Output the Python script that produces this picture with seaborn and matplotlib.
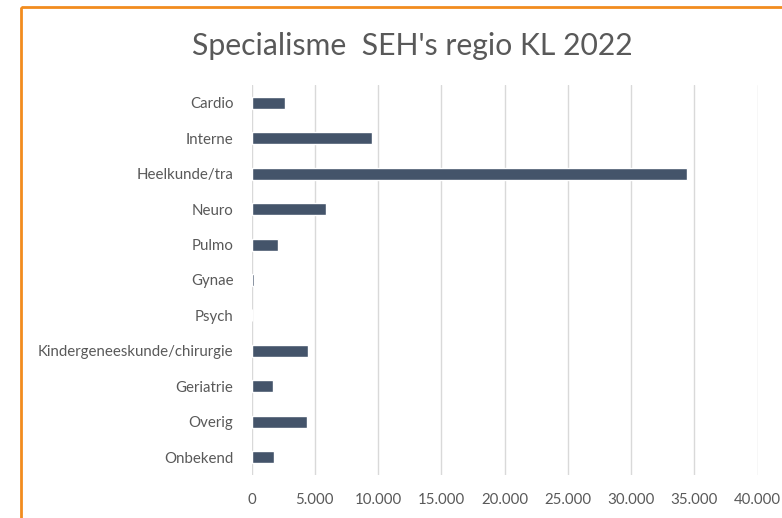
import matplotlib
matplotlib.use("Agg")
import matplotlib.pyplot as plt
import matplotlib.patches as mpatches
from matplotlib.ticker import FuncFormatter
import seaborn as sns
import pandas as pd

# Number of ED visits per specialism, regio KL 2022
specialismen = [
    "Cardio", "Interne", "Heelkunde/tra", "Neuro", "Pulmo", "Gynae",
    "Psych", "Kindergeneeskunde/chirurgie", "Geriatrie", "Overig", "Onbekend",
]
aantallen = [2650, 9500, 34400, 5900, 2100, 200, 0, 4450, 1680, 4380, 1760]
x_ticks = [0, 5000, 10000, 15000, 20000, 25000, 30000, 35000, 40000]

sns.set_theme(style="white")
plt.rcParams["font.family"] = ["Lato", "DejaVu Sans"]

W, H = 782, 518
fig = plt.figure(figsize=(W / 100, H / 100), dpi=100)
fig.patch.set_facecolor("white")

# plot area in pixel units -> figure fractions
left_px, right_px, top_px, bottom_px = 251.5, 757.5, 85, 475
ax = fig.add_axes([left_px / W, 1 - bottom_px / H,
                   (right_px - left_px) / W, (bottom_px - top_px) / H])

df = pd.DataFrame({"specialisme": specialismen, "aantal": aantallen})
sns.barplot(data=df, x="aantal", y="specialisme", orient="h", ax=ax,
            color="#44546a", saturation=1, width=0.34)

ax.set_xlim(0, 40000)
ax.set_xticks(x_ticks)
ax.xaxis.set_major_formatter(FuncFormatter(lambda v, p: f"{int(v):,}".replace(",", ".")))
ax.grid(axis="x", color="#d9d9d9", linewidth=1.0)
ax.grid(axis="y", visible=False)
ax.set_axisbelow(True)
for s in ax.spines.values():
    s.set_visible(False)
ax.set_xlabel("")
ax.set_ylabel("")
ax.tick_params(axis="both", length=0, labelsize=10.8, labelcolor="#595959")
ax.tick_params(axis="x", pad=13)
ax.tick_params(axis="y", pad=13)

fig.text(412 / W, 1 - 46 / H, "Specialisme  SEH's regio KL 2022",
         ha="center", va="center", fontsize=21.7, color="#595959")

# orange frame around the chart area
frame = mpatches.Rectangle((21 / W, 1 - 7 / H), 2.0, -2.0,
                           transform=fig.transFigure, fill=False,
                           edgecolor="#f28c1e", linewidth=2.0, clip_on=False)
fig.patches.append(frame)

fig.savefig("out.png", dpi=100)
